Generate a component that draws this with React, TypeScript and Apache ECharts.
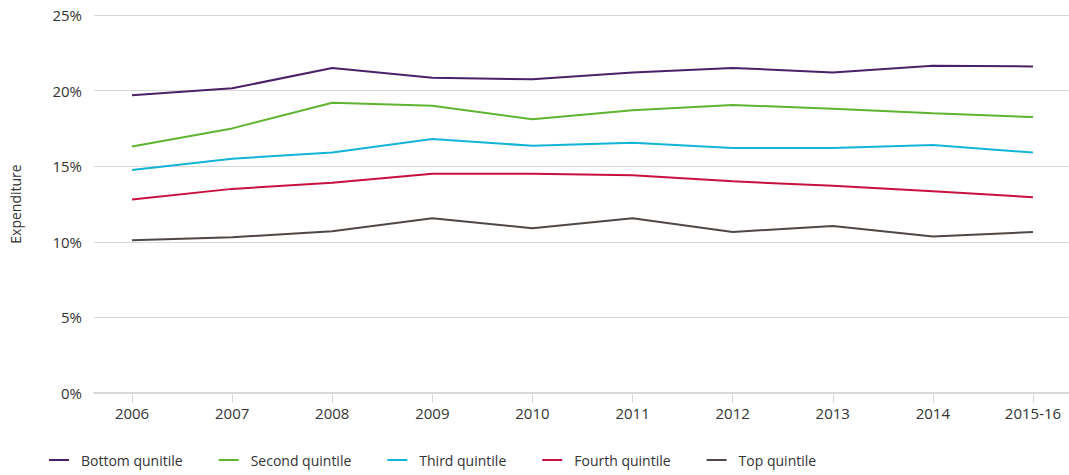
import React, { useEffect, useRef } from "react";
import * as echarts from "echarts";

const categories = ["2006", "2007", "2008", "2009", "2010", "2011", "2012", "2013", "2014", "2015-16"];
const bottomQuintile = [19.7, 20.15, 21.5, 20.85, 20.75, 21.2, 21.5, 21.2, 21.65, 21.6];
const secondQuintile = [16.3, 17.5, 19.2, 19.0, 18.1, 18.7, 19.05, 18.8, 18.5, 18.25];
const thirdQuintile = [14.75, 15.5, 15.9, 16.8, 16.35, 16.55, 16.2, 16.2, 16.4, 15.9];
const fourthQuintile = [12.8, 13.5, 13.9, 14.5, 14.5, 14.4, 14.0, 13.7, 13.35, 12.95];
const topQuintile = [10.1, 10.3, 10.7, 11.55, 10.9, 11.55, 10.65, 11.05, 10.35, 10.65];
const yTicks = [0, 5, 10, 15, 20, 25];

const seriesDefs = [
  { name: "Bottom qunitile", data: bottomQuintile, color: "#4b2068" },
  { name: "Second quintile", data: secondQuintile, color: "#5fb432" },
  { name: "Third quintile", data: thirdQuintile, color: "#12b4d8" },
  { name: "Fourth quintile", data: fourthQuintile, color: "#c8103e" },
  { name: "Top quintile", data: topQuintile, color: "#4f4844" },
];

const FONT = "'Open Sans', Lato, sans-serif";

export default function App() {
  const ref = useRef<HTMLDivElement>(null);
  useEffect(() => {
    if (!ref.current) return;
    const chart = echarts.init(ref.current, undefined, { renderer: "svg" });
    chart.setOption({
      animation: false,
      textStyle: { fontFamily: FONT },
      grid: { left: 89, right: 0, top: 15, bottom: 82 },
      legend: {
        bottom: 3,
        left: 44,
        itemWidth: 20,
        itemHeight: 2,
        itemGap: 36,
        icon: "rect",
        textStyle: { fontSize: 14, color: "#333", fontFamily: FONT, padding: [0, 0, 0, 7] },
        data: seriesDefs.map((s) => s.name),
      },
      xAxis: {
        type: "value",
        min: -0.38,
        max: 9.36,
        splitLine: { show: false },
        axisLine: { show: true, lineStyle: { color: "#d9d9d9", width: 2 } },
        axisTick: {
          show: true,
          length: 10,
          lineStyle: { color: "#d9d9d9", width: 1 },
          customValues: categories.map((_, i) => i),
        },
        axisLabel: {
          fontSize: 15,
          color: "#333",
          margin: 12,
          fontFamily: FONT,
          customValues: categories.map((_, i) => i),
          formatter: (v: number) => categories[Math.round(v)] ?? "",
        },
      },
      yAxis: {
        type: "value",
        min: 0,
        max: 25,
        interval: 5,
        name: "Expenditure",
        nameLocation: "middle",
        nameGap: 72,
        nameTextStyle: { fontSize: 14, color: "#333", fontFamily: FONT },
        axisLine: { show: false },
        axisTick: { show: false },
        splitLine: { lineStyle: { color: "#d9d9d9", width: 1 } },
        axisLabel: {
          fontSize: 15,
          color: "#333",
          margin: 12,
          fontFamily: FONT,
          formatter: (v: number) => (yTicks.includes(v) ? v + "%" : ""),
        },
      },
      series: seriesDefs.map((s) => ({
        name: s.name,
        type: "line",
        data: s.data.map((v, i) => [i, v]),
        symbol: "none",
        lineStyle: { color: s.color, width: 2 },
        itemStyle: { color: s.color },
      })),
    });
    return () => chart.dispose();
  }, []);
  return <div ref={ref} style={{ width: 1069, height: 475, position: "absolute", left: 0, top: 0 }} />;
}
